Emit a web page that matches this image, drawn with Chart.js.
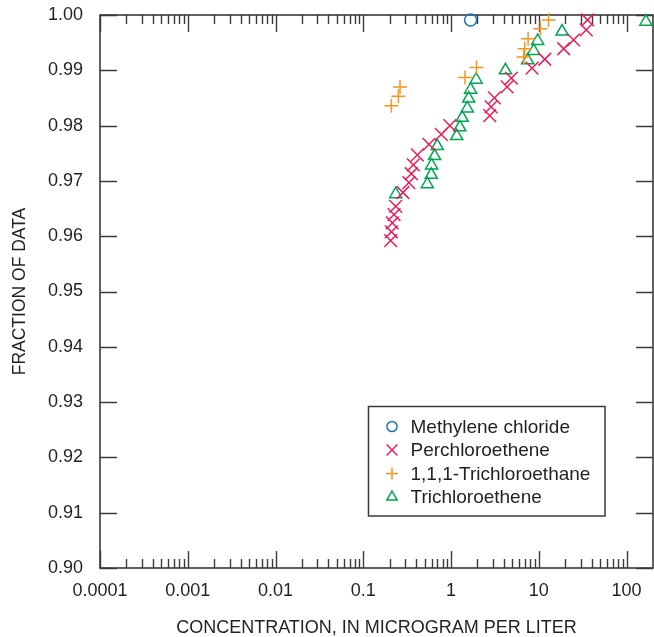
<!DOCTYPE html>
<html>
<head>
<meta charset="utf-8">
<script src="https://cdn.jsdelivr.net/npm/chart.js@4.4.1/dist/chart.umd.min.js"></script>
<style>
  html, body { margin: 0; padding: 0; background: #fff; }
  #wrap { width: 654px; height: 637px; }
</style>
</head>
<body>
<div id="wrap"><canvas id="chart" width="654" height="637"></canvas></div>
<script>
// values (x in microgram per liter, y = fraction of data)
const methyleneX = [1.67];
const methyleneY = [0.9991];

const perchloroX = [0.205, 0.209, 0.214, 0.224, 0.234, 0.283, 0.331, 0.353, 0.372, 0.413, 0.56, 0.774,
                    0.969, 2.76, 2.86, 3.12, 4.35, 4.87, 8.38, 11.7, 19.2, 24.9, 34.7, 35.9];
const perchloroY = [0.9592, 0.9608, 0.9624, 0.9639, 0.9654, 0.9679, 0.9697, 0.9713, 0.9729, 0.9747, 0.9766, 0.9784,
                    0.9800, 0.9818, 0.9834, 0.9850, 0.9870, 0.9886, 0.9904, 0.9920, 0.9939, 0.9955, 0.9973, 0.9991];

const trichloroethaneX = [0.209, 0.251, 0.262, 1.44, 1.95, 6.73, 6.91, 7.55, 10.4, 12.9];
const trichloroethaneY = [0.9836, 0.9853, 0.9870, 0.9887, 0.9905, 0.9924, 0.9939, 0.9957, 0.9975, 0.9991];

const trichloroetheneX = [0.234, 0.536, 0.596, 0.600, 0.649, 0.697, 1.16, 1.26, 1.34, 1.53, 1.59, 1.67,
                          1.93, 4.17, 7.47, 8.74, 9.70, 18.4, 166];
const trichloroetheneY = [0.9676, 0.9694, 0.9711, 0.9728, 0.9745, 0.9763, 0.9781, 0.9797, 0.9814, 0.9831, 0.9849, 0.9865,
                          0.9883, 0.9900, 0.9918, 0.9935, 0.9953, 0.9970, 0.9988];

const xTickValues = [0.0001, 0.001, 0.01, 0.1, 1, 10, 100];
const xTickLabels = ['0.0001', '0.001', '0.01', '0.1', '1', '10', '100'];
const yTickValues = [0.90, 0.91, 0.92, 0.93, 0.94, 0.95, 0.96, 0.97, 0.98, 0.99, 1.00];

const FONT = "'Liberation Sans', Arial, Helvetica, sans-serif";
const INK = '#231f20';

function pairs(xs, ys) {
    return xs.map((x, i) => ({ x: x, y: ys[i] }));
}

// frame plus inward tick marks on all four sides
const frameTicks = {
    id: 'frameTicks',
    beforeDatasetsDraw(chart) {
        const { ctx, chartArea: a } = chart;
        const xs = chart.scales.x, ys = chart.scales.y;
        ctx.save();
        ctx.strokeStyle = '#3a3a3a';
        ctx.lineWidth = 1.4;
        ctx.beginPath();
        // major x ticks
        xTickValues.forEach(v => {
            const px = Math.round(xs.getPixelForValue(v)) + 0.5;
            ctx.moveTo(px, a.bottom); ctx.lineTo(px, a.bottom - 17);
            ctx.moveTo(px, a.top); ctx.lineTo(px, a.top + 17);
        });
        // minor x ticks 2..9 in every decade
        for (let d = -4; d <= 1; d++) {
            for (let m = 2; m <= 9; m++) {
                const px = Math.round(xs.getPixelForValue(m * Math.pow(10, d))) + 0.5;
                ctx.moveTo(px, a.bottom); ctx.lineTo(px, a.bottom - 9);
                ctx.moveTo(px, a.top); ctx.lineTo(px, a.top + 9);
            }
        }
        // y ticks, left and right
        yTickValues.forEach(v => {
            const py = Math.round(ys.getPixelForValue(v)) + 0.5;
            ctx.moveTo(a.left, py); ctx.lineTo(a.left + 17, py);
            ctx.moveTo(a.right, py); ctx.lineTo(a.right - 17, py);
        });
        ctx.stroke();
        ctx.lineWidth = 1.6;
        ctx.strokeRect(a.left, a.top, a.right - a.left, a.bottom - a.top);
        ctx.restore();
    }
};

// boxed legend sitting inside the plot
const boxLegend = {
    id: 'boxLegend',
    afterDraw(chart) {
        const { ctx, chartArea: a } = chart;
        const bx = a.left + 268.5, by = a.top + 391.5;
        ctx.save();
        ctx.strokeStyle = '#3a3a3a';
        ctx.lineWidth = 1.5;
        ctx.strokeRect(bx, by, 236.5, 109.5);
        ctx.font = '19px ' + FONT;
        ctx.textBaseline = 'middle';
        ctx.textAlign = 'left';
        chart.data.datasets.forEach((ds, i) => {
            const y = by + 20 + i * 23.5;
            ctx.strokeStyle = ds.borderColor;
            ctx.fillStyle = 'rgba(0,0,0,0)';
            ctx.lineWidth = ds.borderWidth;
            Chart.helpers.drawPoint(ctx, {
                pointStyle: ds.pointStyle,
                radius: ds.pointRadius * 0.85,
                borderWidth: ds.borderWidth,
                rotation: 0
            }, bx + 23.5, y);
            ctx.fillStyle = INK;
            ctx.fillText(ds.label, bx + 42, y + 1);
        });
        ctx.restore();
    }
};

const ctx = document.getElementById('chart').getContext('2d');
new Chart(ctx, {
    type: 'scatter',
    data: {
        datasets: [
            { label: 'Methylene chloride', data: pairs(methyleneX, methyleneY), pointStyle: 'circle',
              pointRadius: 6, borderColor: '#1b75bc', backgroundColor: 'rgba(0,0,0,0)', borderWidth: 1.5, clip: false },
            { label: 'Perchloroethene', data: pairs(perchloroX, perchloroY), pointStyle: 'crossRot',
              pointRadius: 9, borderColor: '#ec1c5a', backgroundColor: 'rgba(0,0,0,0)', borderWidth: 1.5, clip: false },
            { label: '1,1,1-Trichloroethane', data: pairs(trichloroethaneX, trichloroethaneY), pointStyle: 'cross',
              pointRadius: 7, borderColor: '#f7941d', backgroundColor: 'rgba(0,0,0,0)', borderWidth: 1.5, clip: false },
            { label: 'Trichloroethene', data: pairs(trichloroetheneX, trichloroetheneY), pointStyle: 'triangle',
              pointRadius: 7, borderColor: '#00a651', backgroundColor: 'rgba(0,0,0,0)', borderWidth: 1.5, clip: false }
        ]
    },
    options: {
        responsive: false,
        animation: false,
        layout: { autoPadding: false, padding: { top: 15, right: 1, left: 0, bottom: 0 } },
        plugins: {
            legend: { display: false },
            tooltip: { enabled: false }
        },
        scales: {
            x: {
                type: 'logarithmic',
                min: 0.0001,
                max: 200,
                grid: { display: false, drawTicks: false },
                border: { display: false },
                afterBuildTicks: s => { s.ticks = xTickValues.map(v => ({ value: v })); },
                afterFit: s => { s.height = 69; s.paddingLeft = 0; s.paddingRight = 0; },
                ticks: {
                    autoSkip: false,
                    maxRotation: 0,
                    padding: 12,
                    color: INK,
                    font: { family: FONT, size: 18 },
                    callback: (v, i) => xTickLabels[i]
                },
                title: {
                    display: true,
                    text: 'CONCENTRATION, IN MICROGRAM PER LITER',
                    color: INK,
                    font: { family: FONT, size: 18, lineHeight: 1 },
                    padding: { top: 0, bottom: 0 }
                }
            },
            y: {
                min: 0.9,
                max: 1.0,
                grid: { display: false, drawTicks: false },
                border: { display: false },
                afterBuildTicks: s => { s.ticks = yTickValues.map(v => ({ value: v })); },
                afterFit: s => { s.width = 100; s.paddingTop = 0; s.paddingBottom = 0; },
                ticks: {
                    padding: 17,
                    color: INK,
                    font: { family: FONT, size: 18 },
                    callback: v => v.toFixed(2)
                },
                title: {
                    display: true,
                    text: 'FRACTION OF DATA',
                    color: INK,
                    font: { family: FONT, size: 17.5, lineHeight: 1 },
                    padding: { top: 11, bottom: 0 }
                }
            }
        }
    },
    plugins: [frameTicks, boxLegend]
});
</script>
</body>
</html>
